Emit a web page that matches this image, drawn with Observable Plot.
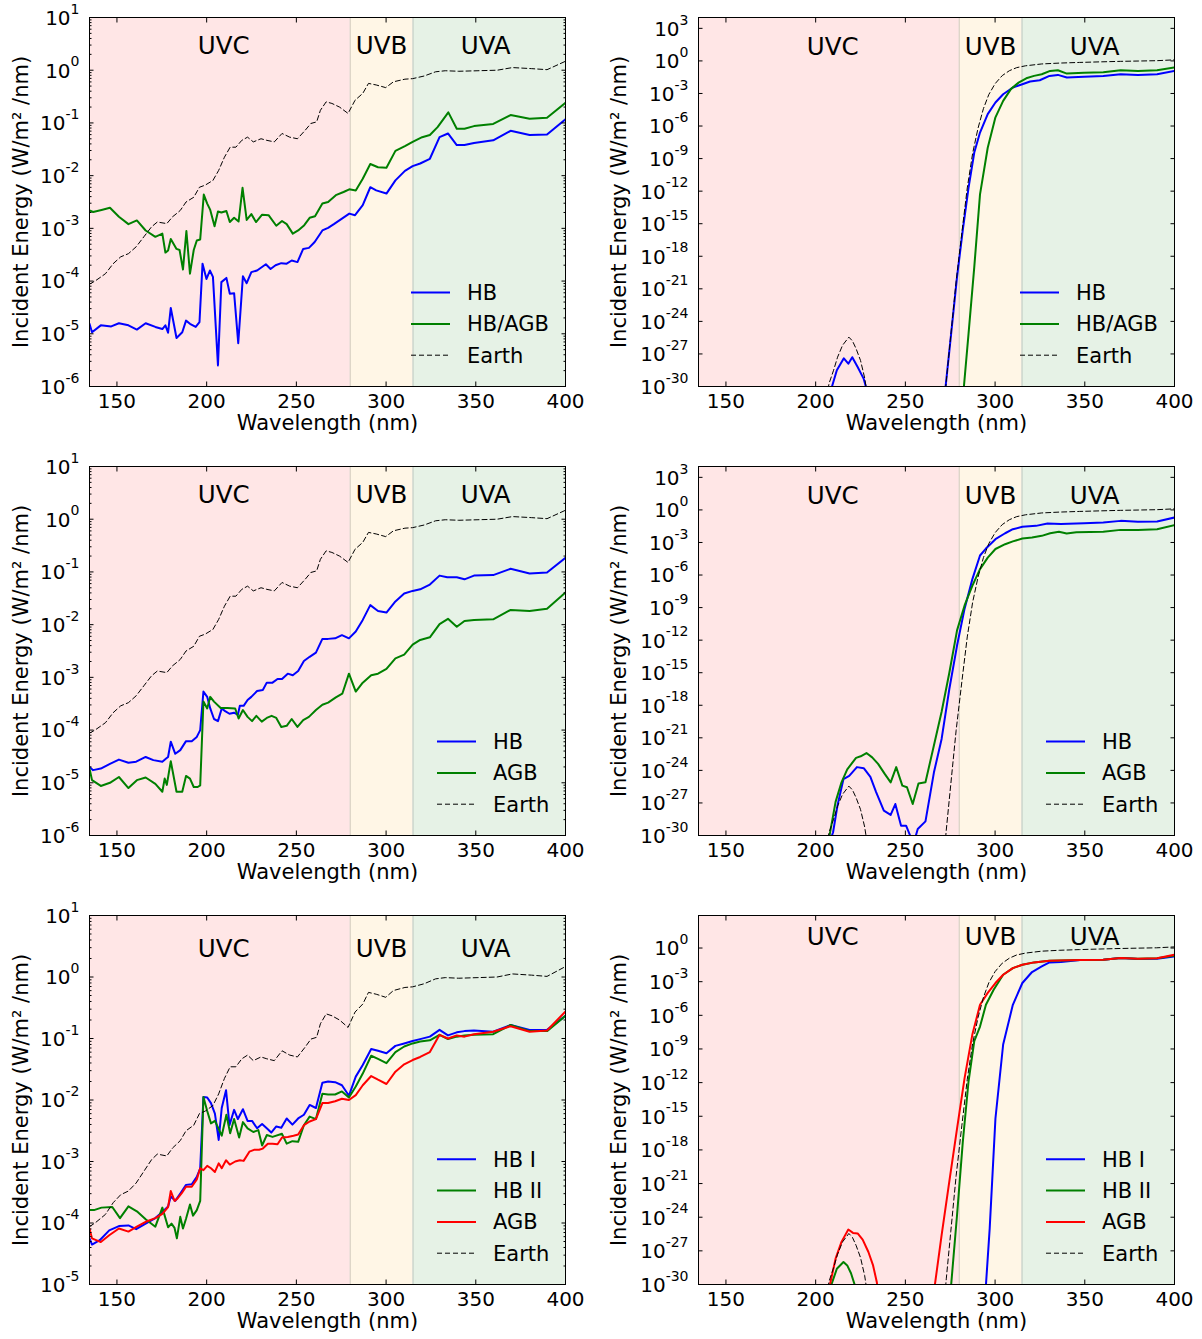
<!DOCTYPE html>
<html><head><meta charset="utf-8">
<script src="https://cdn.jsdelivr.net/npm/d3@7"></script>
<script src="https://cdn.jsdelivr.net/npm/@observablehq/plot@0.6"></script>
<style>
body{margin:0;background:#fff;overflow:hidden}
#root{position:relative;width:1202px;height:1339px;font-family:"DejaVu Sans",sans-serif}
#root svg{position:absolute;overflow:visible}
</style></head><body><div id="root"></div>
<script>
// ---- data: [wavelength nm, log10(W/m^2/nm)], null = gap ----
const earthTop = [[134.7,-4.06],[138.2,-3.99],[143.6,-3.86],[147.9,-3.67],[152.1,-3.54],[156.4,-3.48],[160.7,-3.35],[165,-3.16],[169.3,-2.97],[172.5,-2.88],[177.8,-2.91],[181,-2.78],[183.2,-2.72],[185.3,-2.66],[188.5,-2.5],[192.8,-2.41],[196,-2.22],[199.2,-2.18],[203.5,-2.09],[206.7,-1.9],[209.9,-1.65],[213.1,-1.46],[216.3,-1.46],[219.6,-1.33],[222.8,-1.27],[226,-1.36],[230.3,-1.3],[233.5,-1.33],[237.7,-1.36],[242,-1.2],[246.3,-1.27],[250.6,-1.3],[254.9,-1.14],[258.1,-1.01],[261.3,-0.98],[263.4,-0.76],[266.6,-0.6],[269.8,-0.63],[274.1,-0.7],[278.8,-0.82],[282.7,-0.57],[287,-0.44],[290.2,-0.25],[294.5,-0.28],[299.8,-0.33],[304.1,-0.22],[310.5,-0.17],[314.8,-0.16],[321.2,-0.11],[327.6,-0.03],[333,-0.01],[340.5,-0.02],[351.2,-0.01],[361.9,0.0],[370.4,0.05],[381.1,0.03],[389.7,0.01],[400,0.17]];

const earthSurf = [[206,-31],[207.5,-29.7],[210,-28.5],[212.2,-27.3],[215,-26.2],[218.5,-25.45],[220.5,-25.8],[222.5,-26.5],[225,-27.6],[227.3,-29.2],[229,-31],null,[272,-31],[272.8,-29.5],[275.3,-25.3],[278.3,-20.3],[281.5,-15.8],[284.5,-11.7],[287.5,-8.5],[290.5,-6.2],[293.5,-4.4],[296.5,-3.1],[300,-2.1],[304,-1.35],[308,-0.9],[312,-0.62],[317,-0.45],[326,-0.28],[336,-0.2],[347,-0.14],[358,-0.09],[370,-0.04],[380,-0.01],[390,0.02],[400,0.1]];

// Row 1: HB and HB/AGB
const hbTop1 = [[134.7,-4.81],[136.1,-4.97],[141,-4.84],[146.8,-4.86],[151.1,-4.80],[156.4,-4.84],[161.1,-4.92],[166,-4.80],[171.4,-4.87],[175.3,-4.91],[177,-4.84],[178.5,-4.98],[180,-4.51],[183.2,-5.08],[186.4,-4.97],[188.5,-4.75],[190.7,-4.81],[193.9,-4.87],[196,-4.78],[197.7,-3.67],[199.9,-3.96],[201.8,-3.8],[203.5,-3.92],[206.3,-5.6],[208.2,-4.02],[211,-3.94],[212.9,-4.24],[215.3,-4.23],[217.6,-5.18],[220.2,-3.91],[222.3,-4.04],[224.9,-3.83],[228.1,-3.8],[233,-3.68],[235.6,-3.77],[238.4,-3.70],[241.6,-3.66],[244.6,-3.67],[247.4,-3.61],[250.6,-3.64],[253.8,-3.39],[257,-3.37],[260.2,-3.26],[264.5,-3.04],[267.7,-2.99],[270.9,-2.92],[275.2,-2.82],[279.5,-2.72],[282.7,-2.75],[287,-2.56],[291.2,-2.22],[294.5,-2.28],[300.2,-2.34],[305.2,-2.09],[310.5,-1.91],[314.8,-1.82],[319,-1.77],[324.4,-1.68],[329.8,-1.27],[334.5,-1.2],[339.4,-1.42],[343.7,-1.42],[349,-1.38],[359.7,-1.33],[369.4,-1.15],[380,-1.23],[389.7,-1.22],[400,-0.93]];
const hbagbTop1 = [[134.7,-2.66],[136.7,-2.69],[141.4,-2.65],[146.1,-2.61],[151.1,-2.78],[156.4,-2.92],[161.1,-2.85],[166,-3.04],[171.4,-3.16],[175.3,-3.10],[177,-3.46],[178.5,-3.42],[180,-3.2],[183.2,-3.39],[184.9,-3.41],[186.8,-3.78],[188.7,-3.05],[190.7,-3.86],[192.8,-3.41],[194.5,-3.23],[196.4,-3.21],[198.4,-2.36],[200.3,-2.53],[202,-2.65],[204.4,-2.96],[206.3,-2.68],[208.2,-2.70],[211,-2.67],[212.9,-2.88],[215.3,-2.80],[217.8,-2.87],[220,-2.23],[222.3,-2.84],[224.9,-2.73],[227.5,-2.88],[230.9,-2.74],[234.5,-2.75],[238.8,-2.95],[242,-2.86],[244.6,-2.92],[248,-3.10],[251,-3.04],[254.4,-2.94],[257.4,-2.80],[260.4,-2.77],[264.5,-2.53],[267.7,-2.50],[272,-2.37],[276.3,-2.31],[279.5,-2.26],[283.1,-2.28],[287,-2.06],[291.2,-1.78],[295.5,-1.84],[300.2,-1.85],[305.2,-1.53],[310.5,-1.44],[314.8,-1.36],[320.1,-1.27],[324.4,-1.23],[328.7,-1.08],[334.7,-0.80],[339.4,-1.11],[343.7,-1.11],[349,-1.06],[359.7,-1.02],[369.4,-0.85],[380,-0.92],[389.7,-0.90],[400,-0.62]];
const hbSurf1 = [[205,-32],[209,-30.06],[211.8,-28.5],[215.7,-27.4],[218.2,-27.9],[220.4,-27.3],[223.4,-28.2],[226.8,-29.3],[228.3,-30.2],[229,-31],null,[272,-31],[272.3,-30.2],[275.5,-25.15],[278.8,-19.9],[282,-15.6],[285.2,-11.7],[288.4,-8.44],[291.6,-6.6],[295.9,-4.9],[300.2,-3.83],[304.5,-3.07],[309.9,-2.45],[315.2,-2.15],[319.5,-1.9],[324.9,-1.78],[330.3,-1.38],[335,-1.29],[340,-1.53],[349.6,-1.47],[360.3,-1.38],[370,-1.23],[379.6,-1.29],[390.3,-1.23],[400,-0.92]];
const hbagbSurf1 = [[282,-31],[282.6,-30.06],[285.2,-25.15],[288.4,-19.0],[291.6,-12.3],[295.9,-8.0],[300.2,-5.2],[304.5,-3.68],[308.8,-2.6],[313.1,-2.0],[317.4,-1.6],[321.7,-1.38],[326,-1.23],[330.7,-0.92],[335,-0.86],[340,-1.17],[349.6,-1.1],[360.3,-1.04],[370,-0.86],[379.6,-0.92],[390.3,-0.86],[400,-0.61]];

// Row 2: HB and AGB
const hbTop2 = [[134.7,-4.70],[136.7,-4.76],[141,-4.73],[146.1,-4.64],[151.1,-4.56],[156.4,-4.62],[160.7,-4.60],[166,-4.51],[170.3,-4.57],[175.3,-4.60],[177.4,-4.54],[178.5,-4.51],[180,-4.22],[182.5,-4.45],[185.3,-4.38],[188.5,-4.21],[191.7,-4.21],[194.5,-4.13],[196.4,-4.00],[198.2,-3.27],[200.3,-3.37],[202,-3.59],[204.1,-3.79],[206.3,-3.83],[208.4,-3.59],[210.3,-3.64],[212.7,-3.69],[215.3,-3.67],[217.4,-3.71],[218.5,-3.54],[220.6,-3.54],[222.8,-3.43],[224.9,-3.37],[228.1,-3.26],[231.3,-3.24],[233.5,-3.10],[236.7,-3.10],[239.5,-3.03],[242,-3.03],[245.2,-2.93],[248,-2.96],[251,-2.88],[254.2,-2.69],[257.4,-2.61],[260.9,-2.53],[264.5,-2.27],[267.7,-2.27],[271.6,-2.26],[275.4,-2.20],[279.3,-2.26],[283.1,-2.13],[287,-1.91],[291.2,-1.63],[295.5,-1.74],[300.2,-1.77],[305.2,-1.56],[310.1,-1.41],[314.8,-1.36],[319,-1.33],[324.4,-1.24],[329.8,-1.07],[334.1,-1.10],[339.4,-1.10],[343.7,-1.14],[349,-1.07],[359.7,-1.06],[369.4,-0.94],[380,-1.03],[389.7,-1.01],[400,-0.73]];
const agbTop2 = [[134.7,-4.73],[136.1,-4.95],[141,-5.06],[146.1,-5.00],[151.1,-4.89],[156.4,-5.10],[161.1,-4.95],[166,-4.90],[171.4,-5.02],[175.3,-5.17],[176.6,-4.92],[177.8,-5.04],[180,-4.59],[183.2,-5.17],[186.4,-5.17],[188.5,-4.87],[190.7,-4.92],[192.8,-5.08],[195,-5.08],[196.4,-5.05],[198.2,-3.46],[200.3,-3.59],[202,-3.37],[204.1,-3.46],[207.8,-3.58],[211.6,-3.58],[215.9,-3.59],[217.8,-3.78],[220.2,-3.62],[222.8,-3.75],[225.3,-3.83],[227.7,-3.73],[230.7,-3.84],[233.5,-3.77],[236.2,-3.73],[238.8,-3.77],[241.6,-3.94],[244.6,-3.92],[247.4,-3.79],[250.6,-3.94],[253.8,-3.81],[257,-3.75],[260.9,-3.62],[264.5,-3.52],[267.7,-3.48],[272,-3.38],[275.6,-3.31],[279.3,-2.93],[283.1,-3.27],[287,-3.10],[291.7,-2.96],[295.5,-2.93],[300.2,-2.84],[305.2,-2.64],[310.1,-2.57],[314.8,-2.38],[319,-2.29],[324.4,-2.24],[329.8,-1.99],[334.5,-1.89],[339.4,-2.04],[343.7,-1.93],[349,-1.91],[359.7,-1.90],[369.4,-1.72],[380,-1.74],[389.7,-1.70],[400,-1.39]];
const hbSurf2 = [[205,-32],[209.7,-29.7],[212.2,-27.2],[215.5,-24.8],[218.7,-24.5],[223,-23.7],[226.8,-23.8],[230.5,-24.6],[233.7,-26.0],[238,-27.7],[241.8,-28.1],[244.4,-27.1],[247.6,-29.1],[250.4,-29.1],[253,-30.15],[255,-30.5],[256.9,-29.4],[261.2,-28.7],[265.9,-24.2],[270.2,-21.1],[274.5,-16.5],[278.8,-12.5],[283,-9.1],[287.3,-6.4],[291.6,-4.2],[294.9,-3.56],[300.2,-2.7],[305.6,-2.15],[309.9,-1.78],[315.2,-1.56],[322.8,-1.47],[329.2,-1.26],[336.7,-1.29],[349.6,-1.23],[360.3,-1.17],[370,-1.01],[379.6,-1.1],[390.3,-1.07],[400,-0.7]];
const agbSurf2 = [[205,-32],[207.9,-29.85],[211.1,-26.9],[214.4,-25.1],[217.6,-23.9],[222.5,-22.85],[225.1,-22.7],[228.3,-22.4],[231.5,-22.8],[234.8,-23.4],[238.4,-24.3],[241.8,-25.1],[244.9,-23.7],[248.3,-25.4],[250.9,-25.55],[254.1,-27.1],[257.3,-25.2],[261.2,-25.1],[265.9,-21.7],[270.2,-18.6],[274.5,-15.0],[278.8,-11.1],[283,-8.8],[287.3,-7.0],[291.6,-5.46],[295.9,-4.4],[300.2,-3.6],[305.6,-3.16],[309.9,-2.9],[315.2,-2.64],[320.6,-2.55],[326,-2.39],[330.7,-2.15],[335.6,-2.02],[339.9,-2.18],[345.3,-2.06],[360.3,-2.02],[370,-1.84],[379.6,-1.84],[390.3,-1.78],[400,-1.41]];

// Row 3: HB I, HB II and AGB
const hb1Top3 = [[134.7,-4.25],[136.1,-4.35],[140.4,-4.28],[145.7,-4.12],[151.1,-4.05],[156.4,-4.04],[160.7,-4.10],[166,-4.01],[171.4,-3.92],[175.3,-3.82],[178.5,-3.73],[180,-3.57],[182.5,-3.64],[185.3,-3.52],[188.5,-3.38],[191.7,-3.37],[194.5,-3.25],[196.4,-3.11],[198.2,-1.95],[200.3,-1.96],[202.4,-2.05],[204.6,-2.22],[206.7,-2.65],[208.4,-2.13],[210.8,-1.84],[212.7,-2.41],[215.3,-2.16],[217.4,-2.31],[220.2,-2.15],[222.8,-2.34],[225.3,-2.34],[228.1,-2.46],[230.9,-2.39],[233.5,-2.46],[236,-2.53],[238.8,-2.43],[241.6,-2.45],[244.6,-2.30],[247.8,-2.40],[251,-2.30],[254.2,-2.24],[257.4,-2.08],[260.9,-2.13],[264.5,-1.72],[267.7,-1.70],[271.6,-1.71],[275.4,-1.76],[279.3,-1.93],[283.1,-1.62],[287,-1.43],[291.7,-1.17],[295.5,-1.20],[300.2,-1.24],[305.2,-1.12],[310.1,-1.08],[314.8,-1.04],[319,-1.01],[324.4,-0.97],[329.8,-0.86],[334.5,-0.95],[339.4,-0.90],[343.7,-0.88],[349,-0.87],[359.7,-0.89],[369.4,-0.78],[380,-0.86],[389.7,-0.86],[400,-0.63]];
const hb2Top3 = [[134.7,-3.79],[137.2,-3.79],[141.4,-3.75],[147.4,-3.74],[151.7,-3.92],[156.4,-3.73],[161.1,-3.81],[166,-3.94],[171.4,-4.06],[175.3,-3.75],[178.5,-4.07],[180.4,-4.01],[182.1,-4.08],[183.4,-4.25],[185.3,-3.90],[186.8,-4.09],[188.5,-3.93],[190.7,-3.70],[192.4,-3.88],[194.5,-3.79],[196.4,-3.64],[198.2,-1.95],[200.3,-2.18],[202.4,-2.38],[204.6,-2.34],[206.7,-2.47],[208.4,-2.58],[211,-2.24],[213.1,-2.54],[215.3,-2.31],[218.1,-2.61],[220.2,-2.36],[222.8,-2.46],[226,-2.52],[228.8,-2.49],[230.9,-2.74],[233.5,-2.57],[236.7,-2.60],[242,-2.55],[244.6,-2.71],[247.8,-2.67],[251,-2.68],[254.2,-2.41],[257.4,-2.27],[260.9,-2.31],[264.5,-1.90],[267.7,-1.91],[271.6,-1.91],[275.4,-1.86],[279.3,-1.96],[283.1,-1.78],[287,-1.57],[291.7,-1.28],[295.5,-1.33],[300.2,-1.40],[305.2,-1.22],[310.1,-1.13],[314.8,-1.08],[319,-1.05],[324.4,-1.03],[329.8,-0.94],[334.5,-1.01],[339.4,-0.97],[343.7,-0.95],[349,-0.94],[359.7,-0.93],[369.4,-0.78],[380,-0.88],[389.7,-0.88],[400,-0.63]];
const agbTop3 = [[134.7,-4.09],[136.1,-4.25],[141,-4.31],[145.7,-4.20],[151.1,-4.09],[156.4,-4.14],[161.1,-4.06],[166,-3.98],[171.4,-3.92],[175.3,-3.85],[178.5,-3.74],[180,-3.48],[182.1,-3.64],[183.8,-3.60],[186,-3.52],[188.5,-3.41],[191.7,-3.41],[194.5,-3.29],[196.4,-3.11],[198.2,-3.14],[200.3,-3.07],[202.4,-3.11],[204.6,-3.17],[206.7,-3.03],[208.4,-3.11],[210.8,-2.98],[212.9,-3.05],[215.9,-3.00],[218.5,-2.98],[220.6,-2.99],[223.8,-2.84],[226.4,-2.81],[229.2,-2.81],[231.3,-2.79],[234.1,-2.71],[236.7,-2.71],[239.5,-2.72],[242,-2.61],[245.2,-2.60],[248.4,-2.58],[251,-2.56],[254.2,-2.41],[257.4,-2.35],[260.9,-2.31],[264.5,-2.05],[267.7,-2.05],[271.6,-2.02],[275.4,-1.98],[279.3,-2.00],[283.1,-1.92],[287,-1.76],[291.7,-1.61],[295.5,-1.67],[300.2,-1.74],[305.2,-1.54],[310.1,-1.42],[314.8,-1.35],[319,-1.30],[324.4,-1.22],[329.8,-0.94],[334.5,-1.00],[339.4,-0.95],[343.7,-0.97],[349,-0.93],[359.7,-0.89],[369.4,-0.80],[380,-0.89],[389.7,-0.87],[400,-0.56]];
const hb1Surf3 = [[294.5,-31],[294.9,-30.06],[297,-25.0],[300.2,-15.2],[304.5,-8.6],[309.9,-5.06],[315.2,-3.12],[320.6,-2.14],[326,-1.64],[330.3,-1.28],[336.7,-1.25],[347.4,-1.07],[360.3,-1.04],[370,-0.89],[379.6,-0.98],[390.3,-0.95],[400,-0.74]];
const hb2Surf3 = [[206,-31],[209,-29.9],[211.8,-28.6],[215.5,-28.0],[217.6,-28.3],[219.7,-29.0],[221.9,-30.1],[223,-31],null,[275,-31],[275.5,-30.06],[278.8,-23.8],[282,-17.3],[285.2,-11.9],[288.4,-8.3],[291.6,-7.0],[294.9,-5.06],[299.2,-3.72],[304.5,-2.38],[309.9,-1.79],[315.2,-1.49],[321.7,-1.28],[330.3,-1.13],[347.4,-1.07],[360.3,-1.04],[370,-0.89],[379.6,-0.95],[390.3,-0.92],[400,-0.68]];
const agbSurf3 = [[206,-31],[207.9,-30.06],[211.1,-27.7],[214.4,-26.2],[218.2,-25.1],[220.8,-25.4],[223.4,-25.45],[226.2,-26.0],[229.4,-27.1],[232,-28.3],[234.1,-29.8],[235,-31],null,[266,-31],[266.3,-30.2],[270.2,-25.6],[274.5,-20.8],[278.8,-16.1],[283,-11.6],[287.3,-7.74],[291.6,-5.06],[295.9,-4.0],[300.2,-3.12],[304.5,-2.38],[309.9,-1.79],[315.2,-1.49],[321.7,-1.28],[330.3,-1.13],[347.4,-1.07],[360.3,-1.04],[370,-0.89],[379.6,-0.95],[390.3,-0.92],[400,-0.6]];

// UV bands and ticks
const bandNames = ["UVC","UVB","UVA"];
const bandStart = [100, 280, 315];
const bandEnd = [280, 315, 400];
const bandLabelX = [209.5, 297.5, 355.5];
const bandFill = ["#ffe6e6","#fff6e6","#e6f2e6"];
const bandEdges = [280, 315];
const xTicks = [150, 200, 250, 300, 350, 400];
const xDomain = [134.7, 400];

// ---- rendering ----
const FW = 476, FH = 369;
const root = document.getElementById("root");
const BLUE = "#0000ff", GREEN = "#008000", RED = "#ff0000";

function pts(arr) { return arr.map(p => p ? {w: p[0], v: Math.pow(10, p[1])} : {w: NaN, v: NaN}); }
const bands = bandNames.map((n, i) => ({name: n, x1: bandStart[i], x2: bandEnd[i], lx: bandLabelX[i], fill: bandFill[i]}));

function panel(cfg) {
  const {left, top, ml, yDomain, yTicks, minor, series, labelY, textX, ylabDx} = cfg;
  const mt = 17, mb = 55, mr = (left === 0 ? 600 : 602) - ml - FW;
  const width = ml + FW + mr, height = mt + FH + mb;
  const marks = [];
  for (const b of bands) marks.push(Plot.rect([b], {x1: "x1", x2: "x2", fill: b.fill, clip: true}));
  marks.push(Plot.ruleX(bandEdges, {stroke: "#000", strokeOpacity: 0.19}));
  for (const s of series) {
    marks.push(Plot.line(pts(s.data), {x: "w", y: "v", stroke: s.color, strokeWidth: s.dash ? 1 : 2, strokeDasharray: s.dash ? "5,3" : null, clip: true}));
  }
  marks.push(Plot.text(bands, {x: "lx", y: () => labelY, text: "name", fontSize: 24.5, fill: "black"}));
  marks.push(Plot.frame({stroke: "black", strokeWidth: 1}));
  const blank = () => "";
  marks.push(Plot.axisX(xTicks, {anchor: "bottom", tickSize: -4.5, tickFormat: blank, label: null}));
  marks.push(Plot.axisX(xTicks, {anchor: "top", tickSize: -4.5, tickFormat: blank, label: null}));
  marks.push(Plot.axisX(xTicks, {anchor: "bottom", tickSize: 0, tickPadding: 7, fontSize: 20, tickFormat: d => String(d), label: null}));
  marks.push(Plot.axisY(yTicks, {anchor: "left", tickSize: -4.5, tickFormat: blank, label: null}));
  marks.push(Plot.axisY(yTicks, {anchor: "right", tickSize: -4.5, tickFormat: blank, label: null}));
  if (minor.length) {
    marks.push(Plot.axisY(minor, {anchor: "left", tickSize: -2.5, tickFormat: blank, label: null}));
    marks.push(Plot.axisY(minor, {anchor: "right", tickSize: -2.5, tickFormat: blank, label: null}));
  }
  marks.push(Plot.axisY(yTicks, {anchor: "left", tickSize: 0, tickPadding: 10, dy: 1, fontSize: 20, tickFormat: d => "10^" + Math.round(Math.log10(d)), label: null}));
  marks.push(Plot.text(["Wavelength (nm)"], {frameAnchor: "bottom", dy: 43, fontSize: 21, text: d => d, fill: "black", textAnchor: "middle"}));
  marks.push(Plot.text(["Incident Energy (W/m\u00b2 /nm)"], {frameAnchor: "left", dx: -ylabDx, rotate: -90, fontSize: 21, text: d => d, fill: "black", textAnchor: "middle"}));

  const svg = Plot.plot({
    width, height, marginLeft: ml, marginRight: mr, marginTop: mt, marginBottom: mb,
    style: {fontFamily: "DejaVu Sans", fontSize: "20px", background: "transparent", overflow: "visible", color: "black"},
    x: {type: "linear", domain: xDomain},
    y: {type: "log", domain: yDomain},
    marks
  });
  svg.style.left = left + "px";
  svg.style.top = top + "px";
  // superscript exponents on y tick labels
  d3.select(svg).selectAll("text").each(function () {
    const m = /^10\^(-?\d+)$/.exec(this.textContent);
    if (m) {
      const t = d3.select(this);
      t.text(null);
      t.append("tspan").text("10");
      t.append("tspan").attr("dy", "-0.8em").attr("font-size", "14px").text(m[1]);
    }
  });
  // legend (lower right, inside the frame)
  const g = d3.select(svg).append("g").attr("font-family", "DejaVu Sans").attr("font-size", 21).attr("text-anchor", "start");
  const n = series.length;
  series.forEach((s, i) => {
    const y = mt + 338.2 - (n - 1 - i) * 31.3;
    g.append("line").attr("x1", ml + textX - 56).attr("x2", ml + textX - 17)
      .attr("y1", y).attr("y2", y).attr("stroke", s.color)
      .attr("stroke-width", s.dash ? 1 : 2).attr("stroke-dasharray", s.dash ? "5,3" : null);
    g.append("text").attr("x", ml + textX).attr("y", y).attr("dy", "0.36em").attr("fill", "black").text(s.name);
  });
  root.appendChild(svg);
}

const decades = (a, b, step) => { const r = []; for (let k = a; k <= b; k += step) r.push(Math.pow(10, k)); return r; };
const minorTicks = (a, b) => { const r = []; for (let k = a; k < b; k++) for (let m = 2; m <= 9; m++) r.push(m * Math.pow(10, k)); return r; };

const leftTicks = decades(-6, 1, 1), leftTicks3 = decades(-5, 1, 1);
const rightTicks = decades(-30, 3, 3), rightTicks3 = decades(-30, 0, 3);

panel({left: 0, top: 0, ml: 89, yDomain: [1e-6, 1e1], yTicks: leftTicks, minor: minorTicks(-6, 1), labelY: 2.8, textX: 378, ylabDx: 68,
  series: [{name: "HB", data: hbTop1, color: BLUE}, {name: "HB/AGB", data: hbagbTop1, color: GREEN}, {name: "Earth", data: earthTop, color: "black", dash: true}]});
panel({left: 600, top: 0, ml: 98, yDomain: [1e-30, 1e4], yTicks: rightTicks, minor: [], labelY: 20, textX: 378, ylabDx: 79,
  series: [{name: "HB", data: hbSurf1, color: BLUE}, {name: "HB/AGB", data: hbagbSurf1, color: GREEN}, {name: "Earth", data: earthSurf, color: "black", dash: true}]});
panel({left: 0, top: 449, ml: 89, yDomain: [1e-6, 1e1], yTicks: leftTicks, minor: minorTicks(-6, 1), labelY: 2.8, textX: 404, ylabDx: 68,
  series: [{name: "HB", data: hbTop2, color: BLUE}, {name: "AGB", data: agbTop2, color: GREEN}, {name: "Earth", data: earthTop, color: "black", dash: true}]});
panel({left: 600, top: 449, ml: 98, yDomain: [1e-30, 1e4], yTicks: rightTicks, minor: [], labelY: 20, textX: 404, ylabDx: 79,
  series: [{name: "HB", data: hbSurf2, color: BLUE}, {name: "AGB", data: agbSurf2, color: GREEN}, {name: "Earth", data: earthSurf, color: "black", dash: true}]});
panel({left: 0, top: 898, ml: 89, yDomain: [1e-5, 1e1], yTicks: leftTicks3, minor: minorTicks(-5, 1), labelY: 2.8, textX: 404, ylabDx: 68,
  series: [{name: "HB I", data: hb1Top3, color: BLUE}, {name: "HB II", data: hb2Top3, color: GREEN}, {name: "AGB", data: agbTop3, color: RED}, {name: "Earth", data: earthTop, color: "black", dash: true}]});
panel({left: 600, top: 898, ml: 98, yDomain: [1e-30, Math.pow(10, 2.9)], yTicks: rightTicks3, minor: [], labelY: 10, textX: 404, ylabDx: 79,
  series: [{name: "HB I", data: hb1Surf3, color: BLUE}, {name: "HB II", data: hb2Surf3, color: GREEN}, {name: "AGB", data: agbSurf3, color: RED}, {name: "Earth", data: earthSurf, color: "black", dash: true}]});
</script></body></html>
